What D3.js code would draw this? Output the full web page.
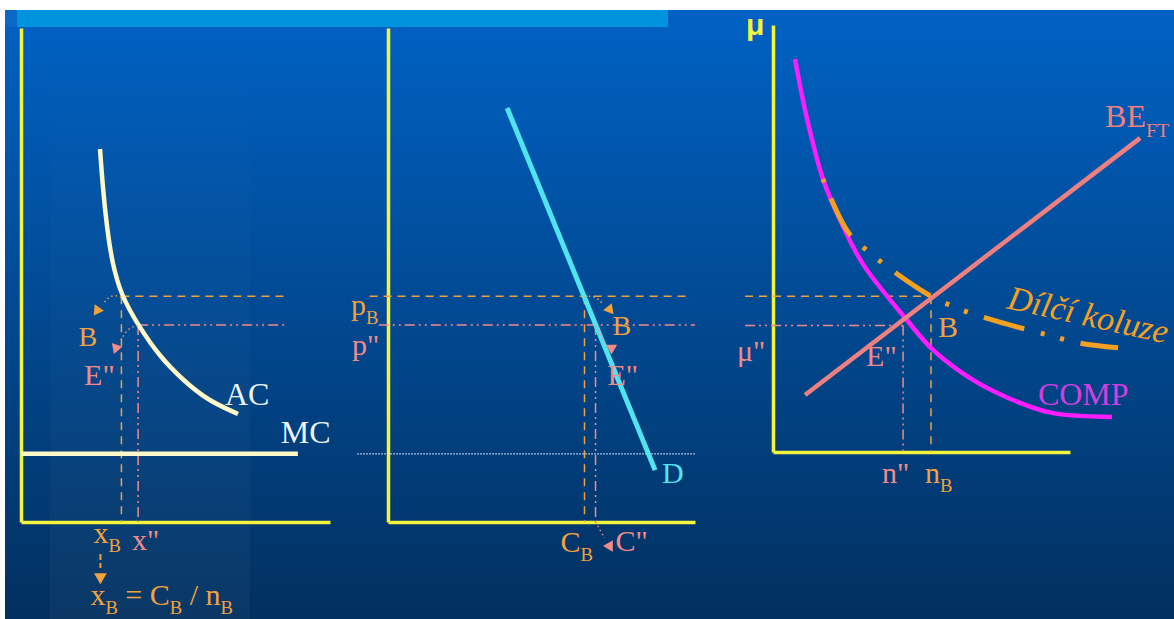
<!DOCTYPE html>
<html>
<head>
<meta charset="utf-8">
<script src="https://cdn.jsdelivr.net/npm/d3@7"></script>
<style>
html, body { margin: 0; padding: 0; background: #fff; }
svg { display: block; }
</style>
</head>
<body>
<div id="chart"></div>
<script>
const width = 1174
const height = 619
const serif = "'Liberation Serif', 'DejaVu Serif', 'Times New Roman', serif"

// panel 1 - firm costs (x: output per firm, y: price)
const acCurve = [[2.557, 7.551], [2.654, 6.721], [2.783, 5.951], [2.945, 5.263], [3.236, 4.595],
    [3.786, 3.988], [4.498, 3.34], [5.243, 2.874], [6.019, 2.47], [7.023, 2.186]]
const mcLevel = 1.38
const mcSpan = [0, 8.96]
const xB = 3.25, xE = 3.79

// panel 1 & 2 share the price levels
const pB = 4.57, pE = 3.99

// panel 2 - demand (x: total output C)
const demand = [[3.88, 8.38], [8.7, 1.05]]
const cB = 6.4, cE = 6.76

// panel 3 - number of firms n vs markup mu
const comp = [[0.74, 9.2], [1.14, 7.82], [1.68, 6.4], [2.26, 5.43], [3.03, 4.4], [4.51, 3.09], [5.39, 2.39], [6.73, 1.69], [8.32, 1.15], [9.43, 0.91], [11.41, 0.82]]
const beFT = [[1.08, 1.335], [12.36, 7.35]]
const koluze = [[1.68, 6.39], [2.53, 5.15], [3.27, 4.66], [4.04, 4.24], [5.32, 3.65], [6.46, 3.3], [7.64, 3.04], [8.99, 2.79], [10.34, 2.55], [11.62, 2.44]]
const nB = 5.32, nE = 4.38
const muB = 3.65, muE = 2.96

const orange = "#f2a23a"
const pink = "#f28a8a"
const cream = "#fff8c8"
const yellow = "#f4f43c"

const svg = d3.select("#chart").append("svg").attr("width", width).attr("height", height)
const defs = svg.append("defs")

// slide background
const bg = defs.append("linearGradient").attr("id", "bg").attr("x1", 0).attr("y1", 0).attr("x2", 0).attr("y2", 1)
bg.append("stop").attr("offset", "0%").attr("stop-color", "#0062c4")
bg.append("stop").attr("offset", "100%").attr("stop-color", "#02305f")
const band = defs.append("linearGradient").attr("id", "band").attr("x1", 0).attr("y1", 0).attr("x2", 0).attr("y2", 1)
band.append("stop").attr("offset", "0%").attr("stop-color", "#fff").attr("stop-opacity", 0)
band.append("stop").attr("offset", "100%").attr("stop-color", "#fff").attr("stop-opacity", 0.035)

svg.append("rect").attr("width", width).attr("height", height).attr("fill", "#fff")
svg.append("rect").attr("x", 5).attr("y", 10).attr("width", width - 5).attr("height", height - 10).attr("fill", "url(#bg)")
svg.append("rect").attr("x", 50).attr("y", 27).attr("width", 200).attr("height", height - 27).attr("fill", "url(#band)")
svg.append("rect").attr("x", 5).attr("y", 10).attr("width", 12).attr("height", 17).attr("fill", "#0a68c8")
svg.append("rect").attr("x", 17).attr("y", 10).attr("width", 651).attr("height", 17).attr("fill", "#0094df")

function panel(xr, yr) {
    const x = d3.scaleLinear().domain([0, 10]).range(xr)
    const y = d3.scaleLinear().domain([0, 10]).range(yr)
    const g = svg.append("g")
    g.append("g").attr("transform", `translate(0, ${y(0)})`)
        .call(d3.axisBottom(x).tickValues([]).tickSizeOuter(0))
    g.append("g").attr("transform", `translate(${x(0)}, 0)`)
        .call(d3.axisLeft(y).tickValues([]).tickSizeOuter(0))
    g.selectAll(".domain").attr("stroke", yellow).attr("stroke-width", 3.5)
    return { x, y, g }
}

const p1 = panel([21, 330], [522, 28])
const p2 = panel([388, 695], [522, 28])
const p3 = panel([773, 1070], [452, 25])

function line(p, pts, color, w, dash, curve) {
    const gen = d3.line().x(d => p.x(d[0])).y(d => p.y(d[1])).curve(curve || d3.curveLinear)
    const path = svg.append("path").attr("d", gen(pts)).attr("fill", "none")
        .attr("stroke", color).attr("stroke-width", w)
    if (dash) path.attr("stroke-dasharray", dash)
    return path
}

const dashed = "8 6"
const dashDot = "10 4 2 4 2 4"

// panel 1 guides
line(p1, [[xB, pB], [8.64, pB]], orange, 1.5, dashed)
line(p1, [[xB, pB], [xB, 0]], orange, 1.5, dashed)
line(p1, [[xE, pE], [8.64, pE]], pink, 1.5, dashDot)
line(p1, [[xE, pE], [xE, 0]], pink, 1.5, dashDot)
// panel 1 curves
line(p1, [[mcSpan[0], mcLevel], [mcSpan[1], mcLevel]], cream, 4.5)
line(p1, acCurve, cream, 4.5, null, d3.curveBasis)

// panel 2
line(p2, [[-1.0, mcLevel], [10, mcLevel]], "#dde8ff", 1.3, "1.5 1.5")
line(p2, [[-0.6, pB], [9.84, pB]], orange, 1.5, dashed)
line(p2, [[cB, pB], [cB, 0]], orange, 1.5, dashed)
line(p2, [[-0.3, pE], [10, pE]], pink, 1.5, dashDot)
line(p2, [[cE, pE], [cE, 0]], pink, 1.5, dashDot)
line(p2, demand, "#50e4f0", 5)

// panel 3
line(p3, [[-0.94, muB], [nB, muB]], orange, 1.5, dashed)
line(p3, [[nB, muB], [nB, 0]], orange, 1.5, dashed)
line(p3, [[-0.94, muE], [nE, muE]], pink, 1.5, dashDot)
line(p3, [[nE, muE], [nE, 0]], pink, 1.5, dashDot)
line(p3, comp, "#ff1cff", 4.5, null, d3.curveCatmullRom)
line(p3, beFT, "#f08080", 4.5)
line(p3, koluze, "#f5a020", 5, "42 17 4 16 4 17", d3.curveCatmullRom).attr("stroke-dashoffset", 79)

// text helper, arrays inside parts are subscripts
function label(x, y, parts, color, size, extra) {
    const t = svg.append("text").attr("x", x).attr("y", y).attr("fill", color)
        .attr("font-size", size).attr("font-family", serif)
    if (extra) extra(t)
    let low = false
    parts.forEach(p => {
        const sub = Array.isArray(p)
        const s = t.append("tspan").text(sub ? p[0] : p)
        if (sub) {
            s.attr("font-size", size * 0.62)
            if (!low) s.attr("dy", size * 0.3)
            low = true
        } else if (low) {
            s.attr("dy", -size * 0.3)
            low = false
        }
    })
    return t
}

function pointer(d, color, tip, angle) {
    svg.append("path").attr("d", d).attr("fill", "none").attr("stroke", color)
        .attr("stroke-width", 1.5).attr("stroke-dasharray", "1.5 3")
    svg.append("path").attr("d", d3.symbol(d3.symbolTriangle, 55)())
        .attr("transform", `translate(${tip[0]}, ${tip[1]}) rotate(${angle})`).attr("fill", color)
}

// panel 1 labels
let ax = p1.x(xB), ay = p1.y(pB)
pointer(`M${ax},${ay + 1}Q${ax - 12},${ay - 4} ${ax - 18},${ay + 8}`, orange, [ax - 24, ay + 14], -25)
label(ax - 43, ay + 50, ["B"], orange, 28)
ax = p1.x(xE); ay = p1.y(pE)
pointer(`M${ax},${ay + 1}Q${ax - 10},${ay + 1} ${ax - 17},${ay + 15}`, pink, [ax - 22, ay + 23], -40)
label(ax - 54, ay + 60, ['E"'], pink, 30)
const acEnd = acCurve[acCurve.length - 1]
label(p1.x(acEnd[0]) - 13, p1.y(acEnd[1]) - 9, ["AC"], "#eef4ff", 32)
label(p1.x(mcSpan[1]) - 17, p1.y(mcLevel) - 11, ["MC"], "#eef4ff", 32)
label(p1.x(xB) - 28, p1.y(0) + 21, ["x", ["B"]], orange, 30)
label(p1.x(xE) - 6, p1.y(0) + 28, ['x"'], pink, 30)
svg.append("line").attr("x1", p1.x(xB) - 21).attr("x2", p1.x(xB) - 21)
    .attr("y1", p1.y(0) + 32).attr("y2", p1.y(0) + 46)
    .attr("stroke", orange).attr("stroke-width", 2).attr("stroke-dasharray", "6 3")
svg.append("path").attr("d", d3.symbol(d3.symbolTriangle, 70)())
    .attr("transform", `translate(${p1.x(xB) - 21}, ${p1.y(0) + 55}) rotate(180)`).attr("fill", orange)
label(p1.x(xB) - 31, p1.y(0) + 83, ["x", ["B"], " = C", ["B"], " / n", ["B"]], orange, 30)

// panel 2 labels
label(p2.x(0) - 37, p2.y(pB) + 19, ["p", ["B"]], orange, 30)
label(p2.x(0) - 36, p2.y(pE) + 30, ['p"'], pink, 30)
ax = p2.x(cB); ay = p2.y(pB)
pointer(`M${ax},${ay + 1}Q${ax + 11},${ay - 3} ${ax + 19},${ay + 9}`, orange, [ax + 25, ay + 13], 20)
label(ax + 28, ay + 39, ["B"], orange, 28)
ax = p2.x(cE); ay = p2.y(pE)
pointer(`M${ax},${ay + 1}L${ax + 9},${ay + 18}`, pink, [ax + 16, ay + 23], -60)
label(ax + 12, ay + 60, ['E"'], pink, 30)
const dEnd = demand[demand.length - 1]
label(p2.x(dEnd[0]) + 7, p2.y(dEnd[1]) + 13, ["D"], "#50e4f0", 30)
label(p2.x(cB) - 24, p2.y(0) + 30, ["C", ["B"]], orange, 30)
ax = p2.x(cE); ay = p2.y(0)
pointer(`M${ax},${ay}L${ax + 9},${ay + 16}`, pink, [ax + 14, ay + 24], -90)
label(ax + 20, ay + 29, ['C"'], pink, 30)

// panel 3 labels
label(p3.x(0) - 27, p3.y(10) + 10, ["\u03bc"], yellow, 30,
    t => t.attr("font-family", "'Liberation Sans', 'DejaVu Sans', sans-serif").attr("font-weight", "bold"))
label(p3.x(0) - 36, p3.y(muE) + 35, ['\u03bc"'], pink, 30)
label(p3.x(nE) - 37, p3.y(muE) + 40, ['E"'], pink, 30)
label(p3.x(nB) + 7, p3.y(muB) + 41, ["B"], orange, 30)
const compEnd = comp[comp.length - 1]
label(p3.x(compEnd[0]) - 74, p3.y(compEnd[1]) - 12, ["COMP"], "#d23ee2", 32)
label(p3.x(nE) - 21, p3.y(0) + 31, ['n"'], pink, 30)
label(p3.x(nB) - 6, p3.y(0) + 31, ["n", ["B"]], orange, 30)
const beEnd = beFT[beFT.length - 1]
label(p3.x(beEnd[0]) - 35, p3.y(beEnd[1]) - 11, ["BE", ["FT"]], "#f08080", 32)
const kx = p3.x(nB) + 75, ky = p3.y(muB) + 12
label(kx, ky, ["D\u00edl\u010d\u00ed koluze"], "#f5a020", 34,
    t => t.attr("font-style", "italic").attr("transform", `rotate(12.5, ${kx}, ${ky})`))
</script>
</body>
</html>
